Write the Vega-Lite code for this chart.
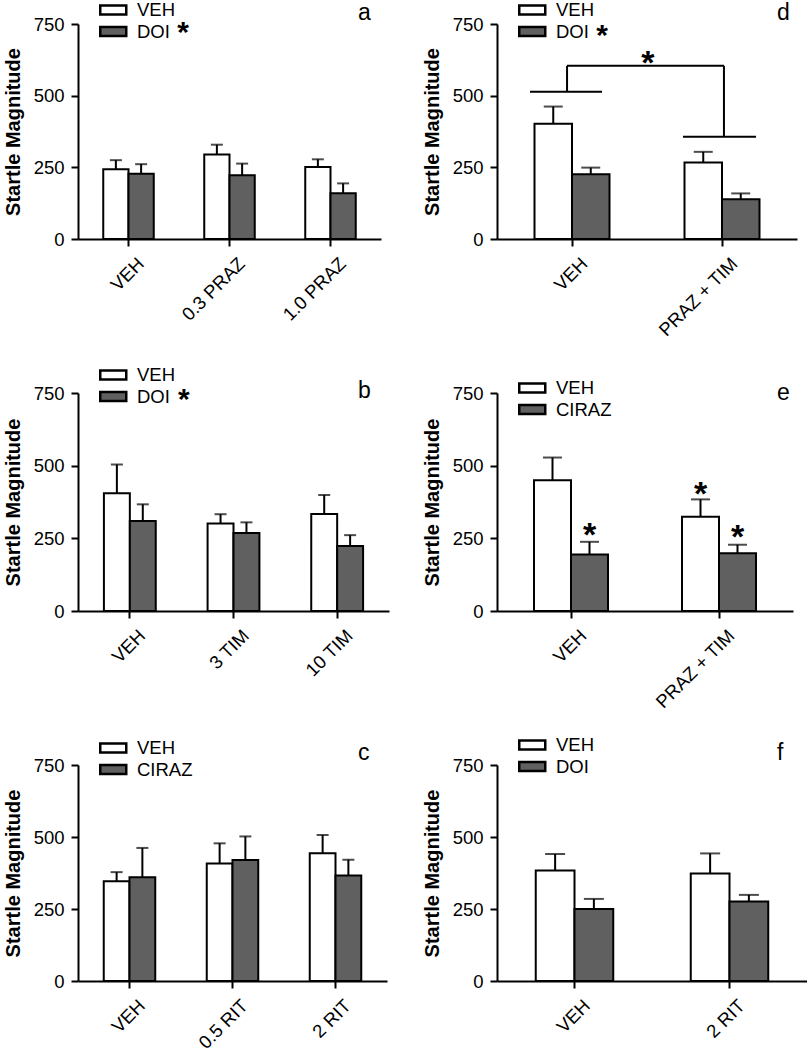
{
  "$schema": "https://vega.github.io/schema/vega-lite/v6.json",
  "padding": {"left": 3, "top": 0, "right": 0, "bottom": 0},
  "background": "white",
  "columns": 2,
  "bounds": "flush",
  "spacing": {"row": 154, "column": 108},
  "datasets": {
    "a": [
      {"cat": "VEH", "s": "VEH", "m": 243, "e": 275},
      {"cat": "VEH", "s": "DOI", "m": 228, "e": 261},
      {"cat": "0.3 PRAZ", "s": "VEH", "m": 295, "e": 329},
      {"cat": "0.3 PRAZ", "s": "DOI", "m": 222, "e": 263},
      {"cat": "1.0 PRAZ", "s": "VEH", "m": 251, "e": 278},
      {"cat": "1.0 PRAZ", "s": "DOI", "m": 160, "e": 194}
    ],
    "a_txt": [{"x": 2.772, "y": 764, "t": "a"}],
    "a_star": [{"x": 1.04, "y": 726, "t": "*"}],
    "d": [
      {"cat": "VEH", "s": "VEH", "m": 402, "e": 462},
      {"cat": "VEH", "s": "DOI", "m": 226, "e": 249},
      {"cat": "PRAZ + TIM", "s": "VEH", "m": 267, "e": 304},
      {"cat": "PRAZ + TIM", "s": "DOI", "m": 139, "e": 159}
    ],
    "d_txt": [{"x": 1.867, "y": 764, "t": "d"}],
    "d_star": [{"x": 0.70, "y": 715, "t": "*"}],
    "d_bstar": [{"x": 1.005, "y": 620, "t": "*"}],
    "d_br": [
      {"x": 0.22, "x2": 0.70, "y": 514, "y2": 514},
      {"x": 0.467, "x2": 0.467, "y": 514, "y2": 604},
      {"x": 0.467, "x2": 1.513, "y": 604, "y2": 604},
      {"x": 1.513, "x2": 1.513, "y": 604, "y2": 357},
      {"x": 1.24, "x2": 1.727, "y": 357, "y2": 357}
    ],
    "b": [
      {"cat": "VEH", "s": "VEH", "m": 405, "e": 504},
      {"cat": "VEH", "s": "DOI", "m": 310, "e": 367},
      {"cat": "3 TIM", "s": "VEH", "m": 301, "e": 333},
      {"cat": "3 TIM", "s": "DOI", "m": 268, "e": 305},
      {"cat": "10 TIM", "s": "VEH", "m": 334, "e": 399},
      {"cat": "10 TIM", "s": "DOI", "m": 224, "e": 261}
    ],
    "b_txt": [{"x": 2.701, "y": 733, "t": "b"}],
    "b_star": [{"x": 1.02, "y": 733, "t": "*"}],
    "e": [
      {"cat": "VEH", "s": "VEH", "m": 450, "e": 528},
      {"cat": "VEH", "s": "CIRAZ", "m": 194, "e": 238},
      {"cat": "PRAZ + TIM", "s": "VEH", "m": 324, "e": 384},
      {"cat": "PRAZ + TIM", "s": "CIRAZ", "m": 199, "e": 228}
    ],
    "e_txt": [{"x": 1.892, "y": 726, "t": "e"}],
    "e_star": [
      {"cat": "VEH", "s": "CIRAZ", "y": 268, "t": "*"},
      {"cat": "PRAZ + TIM", "s": "VEH", "y": 411, "t": "*"},
      {"cat": "PRAZ + TIM", "s": "CIRAZ", "y": 262, "t": "*"}
    ],
    "c": [
      {"cat": "VEH", "s": "VEH", "m": 346, "e": 378},
      {"cat": "VEH", "s": "CIRAZ", "m": 360, "e": 462},
      {"cat": "0.5 RIT", "s": "VEH", "m": 408, "e": 478},
      {"cat": "0.5 RIT", "s": "CIRAZ", "m": 420, "e": 502},
      {"cat": "2 RIT", "s": "VEH", "m": 444, "e": 507},
      {"cat": "2 RIT", "s": "CIRAZ", "m": 366, "e": 421}
    ],
    "c_txt": [{"x": 2.718, "y": 767, "t": "c"}],
    "f": [
      {"cat": "VEH", "s": "VEH", "m": 384, "e": 441},
      {"cat": "VEH", "s": "DOI", "m": 250, "e": 285},
      {"cat": "2 RIT", "s": "VEH", "m": 373, "e": 443},
      {"cat": "2 RIT", "s": "DOI", "m": 276, "e": 299}
    ],
    "f_txt": [{"x": 1.806, "y": 767, "t": "f"}]
  },
  "concat": [
    {
      "width": 303, "height": 215,
      "layer": [
        {
          "data": {"name": "a"},
          "encoding": {
            "x": {"field": "cat", "type": "nominal", "sort": null, "title": null, "scale": {"domain": ["VEH", "0.3 PRAZ", "1.0 PRAZ"], "paddingInner": 0.5, "paddingOuter": 0.25}},
            "xOffset": {"field": "s", "type": "nominal", "sort": null, "scale": {"domain": ["VEH", "DOI"], "paddingInner": 0, "paddingOuter": 0}}
          },
          "layer": [
            {"mark": {"type": "bar", "stroke": "black", "strokeWidth": 2},
             "encoding": {
               "y": {"field": "m", "type": "quantitative", "title": "Startle Magnitude", "scale": {"domain": [0, 750], "nice": false}, "axis": {"values": [0, 250, 500, 750]}},
               "fill": {"field": "s", "type": "nominal", "sort": null, "scale": {"domain": ["VEH", "DOI"], "range": ["white", "#606060"]}, "legend": {"title": null, "legendX": 21, "legendY": -23.25}}
             }},
            {"mark": {"type": "rule", "color": "black", "strokeWidth": 2},
             "encoding": {"y": {"field": "m", "type": "quantitative", "title": "Startle Magnitude"}, "y2": {"field": "e"}}},
            {"mark": {"type": "tick", "color": "black", "thickness": 2},
             "encoding": {"y": {"field": "e", "type": "quantitative", "title": "Startle Magnitude"}, "size": {"value": 12}}}
          ]
        },
        {
          "data": {"name": "a_txt"},
          "mark": {"type": "text", "align": "left", "baseline": "alphabetic", "fontSize": 23, "color": "black"},
          "encoding": {
            "x": {"field": "x", "type": "quantitative", "scale": {"domain": [0, 3], "nice": false, "zero": false}, "axis": null},
            "y": {"field": "y", "type": "quantitative", "title": "Startle Magnitude", "scale": {"domain": [0, 750], "nice": false}},
            "text": {"field": "t"}
          }
        },
        {
          "data": {"name": "a_star"},
          "mark": {"type": "text", "align": "center", "baseline": "alphabetic", "fontSize": 30, "fontWeight": "bold", "dy": 11, "color": "black"},
          "encoding": {
            "x": {"field": "x", "type": "quantitative", "scale": {"domain": [0, 3], "nice": false, "zero": false}, "axis": null},
            "y": {"field": "y", "type": "quantitative", "title": "Startle Magnitude", "scale": {"domain": [0, 750], "nice": false}},
            "text": {"field": "t"}
          }
        }
      ],
      "resolve": {"scale": {"x": "independent"}}
    },
    {
      "width": 300, "height": 215,
      "layer": [
        {
          "data": {"name": "d"},
          "encoding": {
            "x": {"field": "cat", "type": "nominal", "sort": null, "title": null, "scale": {"domain": ["VEH", "PRAZ + TIM"], "paddingInner": 0.5, "paddingOuter": 0.25}},
            "xOffset": {"field": "s", "type": "nominal", "sort": null, "scale": {"domain": ["VEH", "DOI"], "paddingInner": 0, "paddingOuter": 0}}
          },
          "layer": [
            {"mark": {"type": "bar", "stroke": "black", "strokeWidth": 2},
             "encoding": {
               "y": {"field": "m", "type": "quantitative", "title": "Startle Magnitude", "scale": {"domain": [0, 750], "nice": false}, "axis": {"values": [0, 250, 500, 750]}},
               "fill": {"field": "s", "type": "nominal", "sort": null, "scale": {"domain": ["VEH", "DOI"], "range": ["white", "#606060"]}, "legend": {"title": null, "legendX": 21, "legendY": -23.25}}
             }},
            {"mark": {"type": "rule", "color": "black", "strokeWidth": 2},
             "encoding": {"y": {"field": "m", "type": "quantitative", "title": "Startle Magnitude"}, "y2": {"field": "e"}}},
            {"mark": {"type": "tick", "color": "black", "thickness": 2},
             "encoding": {"y": {"field": "e", "type": "quantitative", "title": "Startle Magnitude"}, "size": {"value": 19}}}
          ]
        },
        {
          "data": {"name": "d_br"},
          "mark": {"type": "rule", "color": "black", "strokeWidth": 2},
          "encoding": {
            "x": {"field": "x", "type": "quantitative", "scale": {"domain": [0, 2], "nice": false, "zero": false}, "axis": null},
            "x2": {"field": "x2"},
            "y": {"field": "y", "type": "quantitative", "title": "Startle Magnitude", "scale": {"domain": [0, 750], "nice": false}},
            "y2": {"field": "y2"}
          }
        },
        {
          "data": {"name": "d_txt"},
          "mark": {"type": "text", "align": "left", "baseline": "alphabetic", "fontSize": 23, "color": "black"},
          "encoding": {
            "x": {"field": "x", "type": "quantitative", "scale": {"domain": [0, 2], "nice": false, "zero": false}, "axis": null},
            "y": {"field": "y", "type": "quantitative", "title": "Startle Magnitude", "scale": {"domain": [0, 750], "nice": false}},
            "text": {"field": "t"}
          }
        },
        {
          "data": {"name": "d_star"},
          "mark": {"type": "text", "align": "center", "baseline": "alphabetic", "fontSize": 30, "fontWeight": "bold", "dy": 11, "color": "black"},
          "encoding": {
            "x": {"field": "x", "type": "quantitative", "scale": {"domain": [0, 2], "nice": false, "zero": false}, "axis": null},
            "y": {"field": "y", "type": "quantitative", "title": "Startle Magnitude", "scale": {"domain": [0, 750], "nice": false}},
            "text": {"field": "t"}
          }
        },
        {
          "data": {"name": "d_bstar"},
          "mark": {"type": "text", "align": "center", "baseline": "alphabetic", "fontSize": 34, "fontWeight": "bold", "dy": 13, "color": "black"},
          "encoding": {
            "x": {"field": "x", "type": "quantitative", "scale": {"domain": [0, 2], "nice": false, "zero": false}, "axis": null},
            "y": {"field": "y", "type": "quantitative", "title": "Startle Magnitude", "scale": {"domain": [0, 750], "nice": false}},
            "text": {"field": "t"}
          }
        }
      ],
      "resolve": {"scale": {"x": "independent"}}
    },
    {
      "width": 311, "height": 218,
      "layer": [
        {
          "data": {"name": "b"},
          "encoding": {
            "x": {"field": "cat", "type": "nominal", "sort": null, "title": null, "scale": {"domain": ["VEH", "3 TIM", "10 TIM"], "paddingInner": 0.5, "paddingOuter": 0.25}},
            "xOffset": {"field": "s", "type": "nominal", "sort": null, "scale": {"domain": ["VEH", "DOI"], "paddingInner": 0, "paddingOuter": 0}}
          },
          "layer": [
            {"mark": {"type": "bar", "stroke": "black", "strokeWidth": 2},
             "encoding": {
               "y": {"field": "m", "type": "quantitative", "title": "Startle Magnitude", "scale": {"domain": [0, 750], "nice": false}, "axis": {"values": [0, 250, 500, 750]}},
               "fill": {"field": "s", "type": "nominal", "sort": null, "scale": {"domain": ["VEH", "DOI"], "range": ["white", "#606060"]}, "legend": {"title": null, "legendX": 21, "legendY": -27.25}}
             }},
            {"mark": {"type": "rule", "color": "black", "strokeWidth": 2},
             "encoding": {"y": {"field": "m", "type": "quantitative", "title": "Startle Magnitude"}, "y2": {"field": "e"}}},
            {"mark": {"type": "tick", "color": "black", "thickness": 2},
             "encoding": {"y": {"field": "e", "type": "quantitative", "title": "Startle Magnitude"}, "size": {"value": 12}}}
          ]
        },
        {
          "data": {"name": "b_txt"},
          "mark": {"type": "text", "align": "left", "baseline": "alphabetic", "fontSize": 23, "color": "black"},
          "encoding": {
            "x": {"field": "x", "type": "quantitative", "scale": {"domain": [0, 3], "nice": false, "zero": false}, "axis": null},
            "y": {"field": "y", "type": "quantitative", "title": "Startle Magnitude", "scale": {"domain": [0, 750], "nice": false}},
            "text": {"field": "t"}
          }
        },
        {
          "data": {"name": "b_star"},
          "mark": {"type": "text", "align": "center", "baseline": "alphabetic", "fontSize": 30, "fontWeight": "bold", "dy": 11, "color": "black"},
          "encoding": {
            "x": {"field": "x", "type": "quantitative", "scale": {"domain": [0, 3], "nice": false, "zero": false}, "axis": null},
            "y": {"field": "y", "type": "quantitative", "title": "Startle Magnitude", "scale": {"domain": [0, 750], "nice": false}},
            "text": {"field": "t"}
          }
        }
      ],
      "resolve": {"scale": {"x": "independent"}}
    },
    {
      "width": 296, "height": 218,
      "layer": [
        {
          "encoding": {
            "x": {"field": "cat", "type": "nominal", "sort": null, "title": null, "scale": {"domain": ["VEH", "PRAZ + TIM"], "paddingInner": 0.5, "paddingOuter": 0.25}},
            "xOffset": {"field": "s", "type": "nominal", "sort": null, "scale": {"domain": ["VEH", "CIRAZ"], "paddingInner": 0, "paddingOuter": 0}}
          },
          "layer": [
            {"data": {"name": "e"}, "mark": {"type": "bar", "stroke": "black", "strokeWidth": 2},
             "encoding": {
               "y": {"field": "m", "type": "quantitative", "title": "Startle Magnitude", "scale": {"domain": [0, 750], "nice": false}, "axis": {"values": [0, 250, 500, 750]}},
               "fill": {"field": "s", "type": "nominal", "sort": null, "scale": {"domain": ["VEH", "CIRAZ"], "range": ["white", "#606060"]}, "legend": {"title": null, "legendX": 21, "legendY": -14.25}}
             }},
            {"data": {"name": "e"}, "mark": {"type": "rule", "color": "black", "strokeWidth": 2},
             "encoding": {"y": {"field": "m", "type": "quantitative", "title": "Startle Magnitude"}, "y2": {"field": "e"}}},
            {"data": {"name": "e"}, "mark": {"type": "tick", "color": "black", "thickness": 2},
             "encoding": {"y": {"field": "e", "type": "quantitative", "title": "Startle Magnitude"}, "size": {"value": 19}}},
            {"data": {"name": "e_star"}, "mark": {"type": "text", "align": "center", "baseline": "alphabetic", "fontSize": 34, "fontWeight": "bold", "dy": 13, "color": "black"},
             "encoding": {"y": {"field": "y", "type": "quantitative", "title": "Startle Magnitude"}, "text": {"field": "t"}}}
          ]
        },
        {
          "data": {"name": "e_txt"},
          "mark": {"type": "text", "align": "left", "baseline": "alphabetic", "fontSize": 23, "color": "black"},
          "encoding": {
            "x": {"field": "x", "type": "quantitative", "scale": {"domain": [0, 2], "nice": false, "zero": false}, "axis": null},
            "y": {"field": "y", "type": "quantitative", "title": "Startle Magnitude", "scale": {"domain": [0, 750], "nice": false}},
            "text": {"field": "t"}
          }
        }
      ],
      "resolve": {"scale": {"x": "independent"}}
    },
    {
      "width": 309, "height": 216,
      "layer": [
        {
          "data": {"name": "c"},
          "encoding": {
            "x": {"field": "cat", "type": "nominal", "sort": null, "title": null, "scale": {"domain": ["VEH", "0.5 RIT", "2 RIT"], "paddingInner": 0.5, "paddingOuter": 0.25}},
            "xOffset": {"field": "s", "type": "nominal", "sort": null, "scale": {"domain": ["VEH", "CIRAZ"], "paddingInner": 0, "paddingOuter": 0}}
          },
          "layer": [
            {"mark": {"type": "bar", "stroke": "black", "strokeWidth": 2},
             "encoding": {
               "y": {"field": "m", "type": "quantitative", "title": "Startle Magnitude", "scale": {"domain": [0, 750], "nice": false}, "axis": {"values": [0, 250, 500, 750]}},
               "fill": {"field": "s", "type": "nominal", "sort": null, "scale": {"domain": ["VEH", "CIRAZ"], "range": ["white", "#606060"]}, "legend": {"title": null, "legendX": 21, "legendY": -26.25}}
             }},
            {"mark": {"type": "rule", "color": "black", "strokeWidth": 2},
             "encoding": {"y": {"field": "m", "type": "quantitative", "title": "Startle Magnitude"}, "y2": {"field": "e"}}},
            {"mark": {"type": "tick", "color": "black", "thickness": 2},
             "encoding": {"y": {"field": "e", "type": "quantitative", "title": "Startle Magnitude"}, "size": {"value": 12}}}
          ]
        },
        {
          "data": {"name": "c_txt"},
          "mark": {"type": "text", "align": "left", "baseline": "alphabetic", "fontSize": 23, "color": "black"},
          "encoding": {
            "x": {"field": "x", "type": "quantitative", "scale": {"domain": [0, 3], "nice": false, "zero": false}, "axis": null},
            "y": {"field": "y", "type": "quantitative", "title": "Startle Magnitude", "scale": {"domain": [0, 750], "nice": false}},
            "text": {"field": "t"}
          }
        }
      ],
      "resolve": {"scale": {"x": "independent"}}
    },
    {
      "width": 310, "height": 216,
      "layer": [
        {
          "data": {"name": "f"},
          "encoding": {
            "x": {"field": "cat", "type": "nominal", "sort": null, "title": null, "scale": {"domain": ["VEH", "2 RIT"], "paddingInner": 0.5, "paddingOuter": 0.25}},
            "xOffset": {"field": "s", "type": "nominal", "sort": null, "scale": {"domain": ["VEH", "DOI"], "paddingInner": 0, "paddingOuter": 0}}
          },
          "layer": [
            {"mark": {"type": "bar", "stroke": "black", "strokeWidth": 2},
             "encoding": {
               "y": {"field": "m", "type": "quantitative", "title": "Startle Magnitude", "scale": {"domain": [0, 750], "nice": false}, "axis": {"values": [0, 250, 500, 750]}},
               "fill": {"field": "s", "type": "nominal", "sort": null, "scale": {"domain": ["VEH", "DOI"], "range": ["white", "#606060"]}, "legend": {"title": null, "legendX": 21, "legendY": -29.25}}
             }},
            {"mark": {"type": "rule", "color": "black", "strokeWidth": 2},
             "encoding": {"y": {"field": "m", "type": "quantitative", "title": "Startle Magnitude"}, "y2": {"field": "e"}}},
            {"mark": {"type": "tick", "color": "black", "thickness": 2},
             "encoding": {"y": {"field": "e", "type": "quantitative", "title": "Startle Magnitude"}, "size": {"value": 20}}}
          ]
        },
        {
          "data": {"name": "f_txt"},
          "mark": {"type": "text", "align": "left", "baseline": "alphabetic", "fontSize": 23, "color": "black"},
          "encoding": {
            "x": {"field": "x", "type": "quantitative", "scale": {"domain": [0, 2], "nice": false, "zero": false}, "axis": null},
            "y": {"field": "y", "type": "quantitative", "title": "Startle Magnitude", "scale": {"domain": [0, 750], "nice": false}},
            "text": {"field": "t"}
          }
        }
      ],
      "resolve": {"scale": {"x": "independent"}}
    }
  ],
  "resolve": {"scale": {"fill": "independent", "xOffset": "independent"}, "legend": {"fill": "independent"}},
  "config": {
    "view": {"stroke": null},
    "font": "Liberation Sans",
    "axis": {
      "domainColor": "black", "domainWidth": 2, "tickColor": "black", "tickWidth": 2, "tickSize": 7,
      "labelColor": "black", "labelFontSize": 18.5, "labelFont": "Liberation Sans",
      "titleFont": "Liberation Sans", "titleFontSize": 20, "titleFontWeight": "bold", "titleColor": "black",
      "grid": false
    },
    "axisY": {"labelPadding": 7, "titlePadding": 10},
    "axisX": {"labelAngle": -45, "labelPadding": 8, "labelOffset": 6, "bandPosition": 0.5},
    "legend": {
      "orient": "none",
      "symbolType": "M-2,-0.7H2V0.7H-2Z", "symbolSize": 169, "symbolOffset": 5,
      "symbolStrokeColor": "black", "symbolStrokeWidth": 2.5,
      "labelFontSize": 18.5, "labelColor": "black", "labelFont": "Liberation Sans",
      "labelOffset": 14.5, "rowPadding": 1.5, "padding": 0
    }
  }
}
